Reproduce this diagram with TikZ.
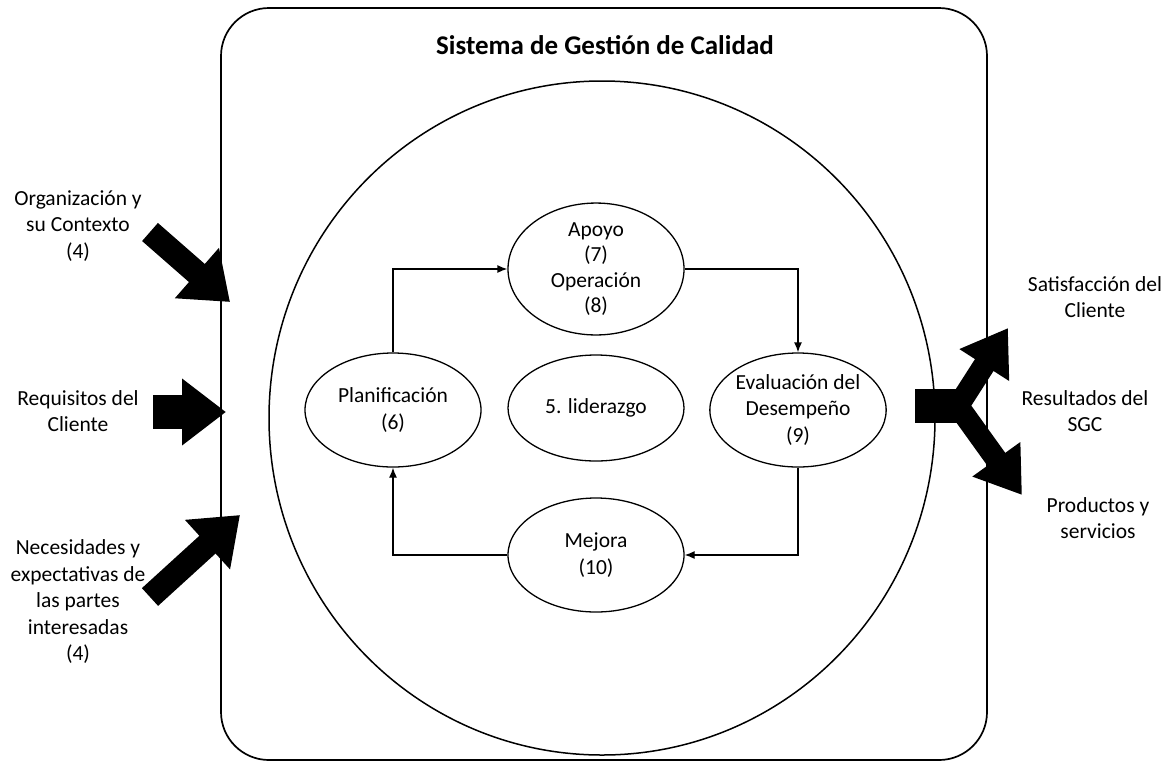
\documentclass[tikz,border=0pt]{standalone}
\usepackage{fontspec}
\setmainfont{Carlito}
\usetikzlibrary{shapes.geometric,arrows.meta}
\tikzset{
  stage/.style={draw,ellipse,line width=1.3pt,minimum width=176pt,minimum height=114pt,align=center,inner sep=0pt},
  flow/.style={line width=1.3pt,-{Latex[length=10pt,width=8pt]}},
  bigarrow/.style={line width=24pt,-{Triangle[length=44pt,width=64pt]}},
  lbl/.style={align=center}
}
\begin{document}
\begin{tikzpicture}[x=1pt,y=-1pt,font=\fontsize{21.5}{26.5}\selectfont]
\useasboundingbox (0,0) rectangle (1169,764);

%% frame and circle
    \draw[line width=1.7pt,rounded corners=48pt] (221,8) rectangle (987,760);
    \node[font=\fontsize{27}{30}\selectfont\bfseries] (title) at (605,45) {Sistema de Gestión de Calidad};
    \draw[line width=1.5pt] (602,418) ellipse (333pt and 337pt);

%% stages
    \node[stage,font=\fontsize{21.5}{25.5}\selectfont] (apoyo) at (596,269) {Apoyo\\(7)\\Operación\\(8)};
    \node[stage] (plan) at (393,410) {Planificación\\(6)};
    \node[stage,minimum height=106pt] (lider) at (596,408) {5. liderazgo};
    \node[stage] (eval) at (798,410) {Evaluación del\\Desempeño\\(9)};
    \node[stage] (mejora) at (596,555) {Mejora\\(10)};

    \draw[flow] (plan.north) |- (apoyo.west);
    \draw[flow] (apoyo.east) -| (eval.north);
    \draw[flow] (eval.south) |- (mejora.east);
    \draw[flow] (mejora.west) -| (plan.south);

%% inputs
    \node[lbl] (ctx) at (78,226) {Organización y\\su Contexto\\(4)};
    \node[lbl] (req) at (78,411) {Requisitos del\\Cliente};
    \node[lbl] (nec) at (78,602) {Necesidades y\\expectativas de\\las partes\\interesadas\\(4)};

    \coordinate (ctxtail) at (150,232);
    \coordinate (ctxtip) at (230,302);
    \coordinate (reqtail) at (153,412);
    \coordinate (reqtip) at (226,412);
    \coordinate (nectail) at (150,597);
    \coordinate (nectip) at (240,515);
    \draw[bigarrow] (ctxtail) -- (ctxtip);
    \draw[bigarrow,line width=34pt] (reqtail) -- (reqtip);
    \draw[bigarrow] (nectail) -- (nectip);

%% outputs
    \node[lbl] (sat) at (1095,297) {Satisfacción del\\Cliente};
    \node[lbl] (res) at (1085,411) {Resultados del\\SGC};
    \node[lbl] (prod) at (1098,518) {Productos y\\servicios};

    \coordinate (outtail) at (915,406);
    \coordinate (outjoin) at (966,406);
    \coordinate (sattip) at (1008,328);
    \coordinate (prodtip) at (1022,495);
    \draw[line width=34pt] (outtail) -- (outjoin);
    \draw[bigarrow,line width=22pt,-{Triangle[length=44pt,width=56pt]}] ([xshift=-8pt]outjoin) -- (sattip);
    \draw[bigarrow,line width=22pt,-{Triangle[length=44pt,width=56pt]}] ([xshift=-8pt]outjoin) -- (prodtip);

\end{tikzpicture}
\end{document}
